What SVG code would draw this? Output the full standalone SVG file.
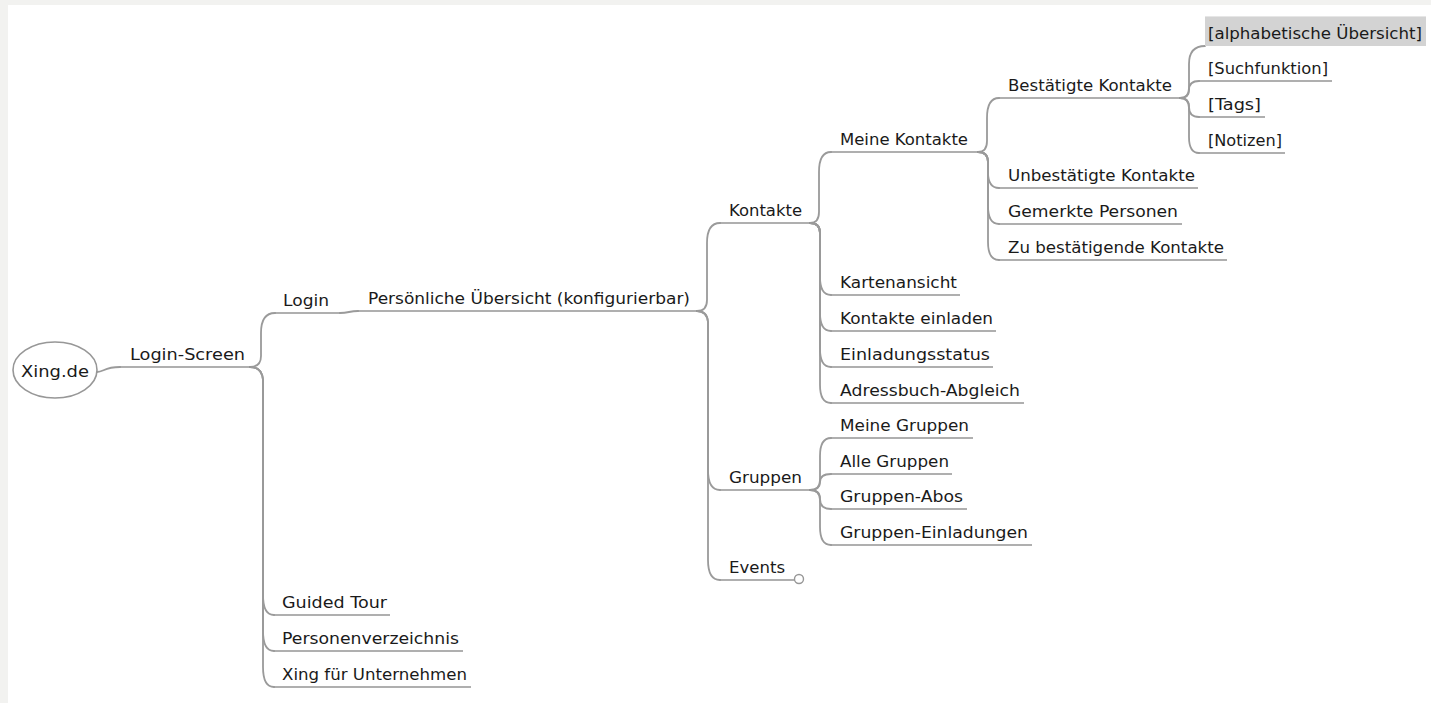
<svg xmlns="http://www.w3.org/2000/svg" width="1431" height="703" viewBox="0 0 1431 703">
<style>
text{font-family:"DejaVu Sans","Liberation Sans",sans-serif;font-size:16px;fill:#1a1a1a}
.ul{stroke:#959595;stroke-width:1.6;fill:none}
.cn{stroke:#9a9a9a;stroke-width:1.8;fill:none;stroke-linecap:round}
</style>
<rect width="1431" height="703" fill="#f2f2f0"/>
<rect x="8" y="5" width="1423" height="698" fill="#ffffff"/>
<g id="connectors">
<path class="cn" d="M97,372 C104,372 104,367 120,367"/>
<path class="cn" d="M250,367 Q261,367 261,356 V333 Q261,313 275,313"/>
<path class="cn" d="M250,367 Q262,367 263,380 V595 Q263,615 274,615"/>
<path class="cn" d="M250,367 Q262,367 263,380 V631 Q263,651 274,651"/>
<path class="cn" d="M250,367 Q262,367 263,380 V667 Q263,687 274,687"/>
<path class="cn" d="M340,313 C349,313 349,311 358,311"/>
<path class="cn" d="M697,311 Q707,311 707,300 V243 Q707,223 720,223"/>
<path class="cn" d="M697,311 Q707,311 708,322 V470 Q708,490 720,490"/>
<path class="cn" d="M697,311 Q707,311 708,322 V560 Q708,580 720,580"/>
<path class="cn" d="M810,223 Q819,223 819,212 V172 Q819,152 831,152"/>
<path class="cn" d="M810,223 Q820,223 820,233 V277 Q820,295 831,295"/>
<path class="cn" d="M810,223 Q820,223 820,233 V313 Q820,331 831,331"/>
<path class="cn" d="M810,223 Q820,223 820,233 V349 Q820,367 831,367"/>
<path class="cn" d="M810,223 Q820,223 820,233 V385 Q820,403 831,403"/>
<path class="cn" d="M810,490 Q820,490 820,480 V456 Q820,438 831,438"/>
<path class="cn" d="M810,490 Q820,490 820,482 Q820,474 831,474"/>
<path class="cn" d="M810,490 Q820,490 820,499 Q820,509 831,509"/>
<path class="cn" d="M810,490 Q820,490 820,500 V527 Q820,545 831,545"/>
<path class="cn" d="M978,152 Q987,152 987,141 V118 Q987,98 999,98"/>
<path class="cn" d="M978,152 Q988,152 988,162 V172 Q988,188 999,188"/>
<path class="cn" d="M978,152 Q988,152 988,162 V206 Q988,224 999,224"/>
<path class="cn" d="M978,152 Q988,152 988,162 V242 Q988,260 999,260"/>
<path class="cn" d="M1180,98 Q1189,98 1189,88 V64 Q1189,46 1205,46"/>
<path class="cn" d="M1180,98 Q1189,98 1189,90 Q1189,81 1199,81"/>
<path class="cn" d="M1180,98 Q1189,98 1189,107 Q1189,117 1199,117"/>
<path class="cn" d="M1180,98 Q1189,98 1189,108 V137 Q1189,153 1199,153"/>
</g>
<g id="n-root"><ellipse cx="55" cy="370" rx="42" ry="28" fill="#fff" stroke="#979797" stroke-width="1.6"/><text x="55" y="377" text-anchor="middle" textLength="68" lengthAdjust="spacingAndGlyphs">Xing.de</text></g>
<g id="n-loginscreen"><line class="ul" x1="120" y1="367" x2="251" y2="367"/><text x="130" y="360" textLength="115" lengthAdjust="spacingAndGlyphs">Login-Screen</text></g>
<g id="n-login"><line class="ul" x1="275" y1="313" x2="340" y2="313"/><text x="283" y="306" textLength="46" lengthAdjust="spacingAndGlyphs">Login</text></g>
<g id="n-persoenlich"><line class="ul" x1="358" y1="311" x2="697" y2="311"/><text x="368" y="304" textLength="322" lengthAdjust="spacingAndGlyphs">Persönliche Übersicht (konfigurierbar)</text></g>
<g id="n-kontakte"><line class="ul" x1="720" y1="223" x2="810" y2="223"/><text x="729" y="216" textLength="73" lengthAdjust="spacingAndGlyphs">Kontakte</text></g>
<g id="n-gruppen"><line class="ul" x1="720" y1="490" x2="811" y2="490"/><text x="729" y="483" textLength="73" lengthAdjust="spacingAndGlyphs">Gruppen</text></g>
<g id="n-events"><line class="ul" x1="720" y1="580" x2="795" y2="580"/><circle cx="799" cy="579" r="4.5" fill="#fff" stroke="#979797" stroke-width="1.4"/><text x="729" y="573" textLength="56" lengthAdjust="spacingAndGlyphs">Events</text></g>
<g id="n-meinekontakte"><line class="ul" x1="831" y1="152" x2="978" y2="152"/><text x="840" y="145" textLength="128" lengthAdjust="spacingAndGlyphs">Meine Kontakte</text></g>
<g id="n-karten"><line class="ul" x1="831" y1="295" x2="960" y2="295"/><text x="840" y="288" textLength="117" lengthAdjust="spacingAndGlyphs">Kartenansicht</text></g>
<g id="n-einladen"><line class="ul" x1="831" y1="331" x2="996" y2="331"/><text x="840" y="324" textLength="153" lengthAdjust="spacingAndGlyphs">Kontakte einladen</text></g>
<g id="n-status"><line class="ul" x1="831" y1="367" x2="993" y2="367"/><text x="840" y="360" textLength="150" lengthAdjust="spacingAndGlyphs">Einladungsstatus</text></g>
<g id="n-adress"><line class="ul" x1="831" y1="403" x2="1024" y2="403"/><text x="840" y="396" textLength="180" lengthAdjust="spacingAndGlyphs">Adressbuch-Abgleich</text></g>
<g id="n-meinegruppen"><line class="ul" x1="831" y1="438" x2="973" y2="438"/><text x="840" y="431" textLength="129" lengthAdjust="spacingAndGlyphs">Meine Gruppen</text></g>
<g id="n-allegruppen"><line class="ul" x1="831" y1="474" x2="952" y2="474"/><text x="840" y="467" textLength="109" lengthAdjust="spacingAndGlyphs">Alle Gruppen</text></g>
<g id="n-abos"><line class="ul" x1="831" y1="509" x2="967" y2="509"/><text x="840" y="502" textLength="123" lengthAdjust="spacingAndGlyphs">Gruppen-Abos</text></g>
<g id="n-grpeinl"><line class="ul" x1="831" y1="545" x2="1032" y2="545"/><text x="840" y="538" textLength="188" lengthAdjust="spacingAndGlyphs">Gruppen-Einladungen</text></g>
<g id="n-bestaetigt"><line class="ul" x1="999" y1="98" x2="1180" y2="98"/><text x="1008" y="91" textLength="164" lengthAdjust="spacingAndGlyphs">Bestätigte Kontakte</text></g>
<g id="n-unbestaetigt"><line class="ul" x1="999" y1="188" x2="1198" y2="188"/><text x="1008" y="181" textLength="187" lengthAdjust="spacingAndGlyphs">Unbestätigte Kontakte</text></g>
<g id="n-gemerkt"><line class="ul" x1="999" y1="224" x2="1182" y2="224"/><text x="1008" y="217" textLength="170" lengthAdjust="spacingAndGlyphs">Gemerkte Personen</text></g>
<g id="n-zubest"><line class="ul" x1="999" y1="260" x2="1227" y2="260"/><text x="1008" y="253" textLength="216" lengthAdjust="spacingAndGlyphs">Zu bestätigende Kontakte</text></g>
<g id="n-alpha"><rect x="1205" y="16" width="221" height="30" fill="#d3d3d3"/><line x1="1205" y1="16.5" x2="1426" y2="16.5" stroke="#e6e6e6"/><text x="1208" y="39" textLength="214" lengthAdjust="spacingAndGlyphs">[alphabetische Übersicht]</text></g>
<g id="n-such"><line class="ul" x1="1199" y1="81" x2="1332" y2="81"/><text x="1208" y="74" textLength="120" lengthAdjust="spacingAndGlyphs">[Suchfunktion]</text></g>
<g id="n-tags"><line class="ul" x1="1199" y1="117" x2="1265" y2="117"/><text x="1208" y="110" textLength="53" lengthAdjust="spacingAndGlyphs">[Tags]</text></g>
<g id="n-notizen"><line class="ul" x1="1199" y1="153" x2="1285" y2="153"/><text x="1208" y="146" textLength="74" lengthAdjust="spacingAndGlyphs">[Notizen]</text></g>
<g id="n-tour"><line class="ul" x1="274" y1="615" x2="390" y2="615"/><text x="282" y="608" textLength="105" lengthAdjust="spacingAndGlyphs">Guided Tour</text></g>
<g id="n-personen"><line class="ul" x1="274" y1="651" x2="463" y2="651"/><text x="282" y="644" textLength="177" lengthAdjust="spacingAndGlyphs">Personenverzeichnis</text></g>
<g id="n-unternehmen"><line class="ul" x1="274" y1="687" x2="471" y2="687"/><text x="282" y="680" textLength="185" lengthAdjust="spacingAndGlyphs">Xing für Unternehmen</text></g>
</svg>
